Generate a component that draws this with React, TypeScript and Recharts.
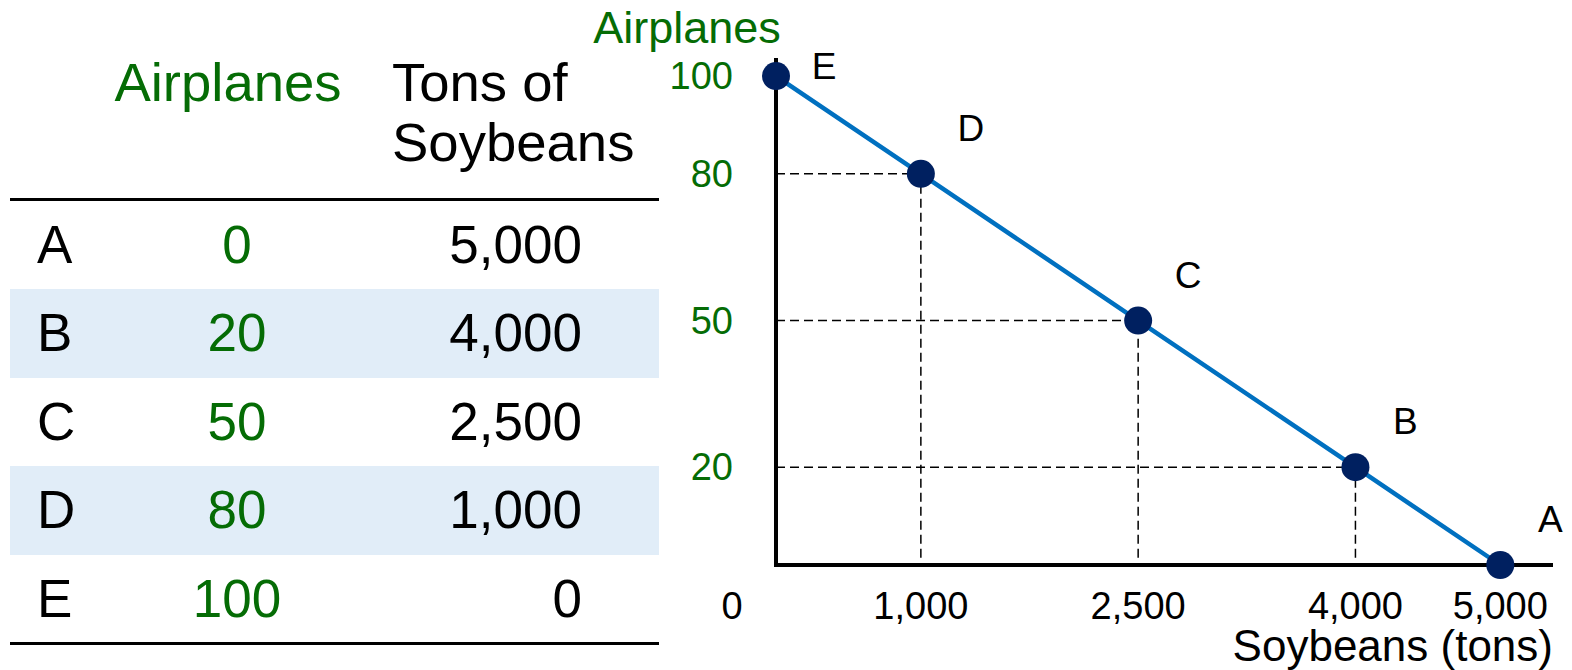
import React from 'react';
import { LineChart, Line, XAxis, YAxis, ReferenceLine, LabelList, Label } from 'recharts';

// Production possibilities: airplanes vs. tons of soybeans
const pointNames = ['A', 'B', 'C', 'D', 'E'];
const airplanes = [0, 20, 50, 80, 100];
const soybeanTons = [5000, 4000, 2500, 1000, 0];

const soybeanTicks = [0, 1000, 2500, 4000, 5000];
const airplaneTicks = [20, 50, 80, 100];

const GREEN = '#056C05';
const LINE_BLUE = '#0070C0';
const DOT_NAVY = '#002060';
const FONT = '"Liberation Sans", Arial, Helvetica, sans-serif';

const fmt = (v: number) => String(v).replace(/\B(?=(\d{3})+(?!\d))/g, ',');

const points = pointNames.map((name, i) => ({
  name,
  airplanes: airplanes[i],
  soybeans: soybeanTons[i],
}));
const chartData = [...points].sort((a, b) => a.soybeans - b.soybeans);
const maxAirplanes = Math.max(...airplanes);

// interior points get dashed guides back to both axes
const guidePoints = points.filter((p) => p.airplanes > 0 && p.soybeans > 0);

const XTick = (props: any) => {
  const { x, y, payload } = props;
  const v = payload.value as number;
  return (
    <text
      x={v === 0 ? x - 44 : x}
      y={y + 54}
      textAnchor="middle"
      fontSize={38}
      fill="#000"
      fontFamily={FONT}
    >
      {fmt(v)}
    </text>
  );
};

const YTick = (props: any) => {
  const { x, y, payload } = props;
  return (
    <text x={x - 43} y={y + 13} textAnchor="end" fontSize={38} fill={GREEN} fontFamily={FONT}>
      {payload.value}
    </text>
  );
};

const PointLabel = (props: any) => {
  const { x, y, value, index } = props;
  const p = chartData[index];
  const onTop = p && p.airplanes === maxAirplanes;
  const dx = onTop ? 48 : 50;
  const dy = onTop ? -10 : -46;
  return (
    <text
      x={x + dx}
      y={y + dy + 13}
      textAnchor="middle"
      fontSize={37}
      fill="#000"
      fontFamily={FONT}
    >
      {value}
    </text>
  );
};

const ROW_TOP = 200.5;
const ROW_H = 88.5;

const ScheduleTable = () => (
  <div
    style={{
      position: 'absolute',
      left: 0,
      top: 0,
      width: 670,
      height: 670,
      fontFamily: FONT,
      fontSize: 53,
      color: '#000',
      whiteSpace: 'nowrap',
    }}
  >
    <div
      style={{
        position: 'absolute',
        left: 88,
        width: 280,
        top: 53,
        fontSize: 54.5,
        lineHeight: '60px',
        textAlign: 'center',
        color: GREEN,
      }}
    >
      Airplanes
    </div>
    <div style={{ position: 'absolute', left: 392, top: 53, fontSize: 54.5, lineHeight: '60px' }}>
      Tons of
      <br />
      Soybeans
    </div>
    <div style={{ position: 'absolute', left: 10, width: 649, top: 198, height: 3, background: '#000' }} />
    {points.map((p, i) => (
      <div
        key={p.name}
        style={{
          position: 'absolute',
          left: 10,
          width: 649,
          top: ROW_TOP + i * ROW_H,
          height: ROW_H,
          lineHeight: `${ROW_H}px`,
          background: i % 2 === 1 ? '#E1EDF8' : 'transparent',
        }}
      >
        <div style={{ position: 'absolute', left: 27, top: 0 }}>{p.name}</div>
        <div style={{ position: 'absolute', left: 127, width: 200, top: 0, textAlign: 'center', color: GREEN }}>
          {p.airplanes}
        </div>
        <div style={{ position: 'absolute', left: 372, width: 200, top: 0, textAlign: 'right' }}>
          {fmt(p.soybeans)}
        </div>
      </div>
    ))}
    <div
      style={{
        position: 'absolute',
        left: 10,
        width: 649,
        top: ROW_TOP + points.length * ROW_H - 1,
        height: 3,
        background: '#000',
      }}
    />
  </div>
);

export default function App() {
  return (
    <div style={{ position: 'absolute', left: 0, top: 0, width: 1572, height: 670, background: '#fff' }}>
      <div style={{ position: 'absolute', left: 0, top: 0 }}>
        <LineChart
          width={1572}
          height={670}
          data={chartData}
          margin={{ top: 58, right: 21, bottom: 0, left: 716 }}
        >
          <XAxis
            type="number"
            dataKey="soybeans"
            domain={[0, 5350]}
            ticks={soybeanTicks}
            interval={0}
            tickLine={false}
            tickSize={0}
            tickMargin={0}
            height={105}
            axisLine={{ stroke: '#000', strokeWidth: 4, strokeLinecap: 'square' }}
            tick={<XTick />}
          >
            <Label
              content={(lp: any) => {
                const vb = lp.viewBox || {};
                return (
                  <text
                    x={(vb.x ?? 776) + (vb.width ?? 775) + 2}
                    y={(vb.y ?? 565) + 96}
                    textAnchor="end"
                    fontSize={44}
                    fill="#000"
                    fontFamily={FONT}
                  >
                    Soybeans (tons)
                  </text>
                );
              }}
            />
          </XAxis>
          <YAxis
            type="number"
            dataKey="airplanes"
            domain={[0, 103.7]}
            ticks={airplaneTicks}
            interval={0}
            width={60}
            tickLine={false}
            tickSize={0}
            tickMargin={0}
            axisLine={{ stroke: '#000', strokeWidth: 4 }}
            tick={<YTick />}
          >
            <Label
              content={(lp: any) => {
                const vb = lp.viewBox || {};
                return (
                  <text
                    x={(vb.x ?? 716) + (vb.width ?? 60) - 89}
                    y={(vb.y ?? 58) - 15}
                    textAnchor="middle"
                    fontSize={45}
                    fill={GREEN}
                    fontFamily={FONT}
                  >
                    Airplanes
                  </text>
                );
              }}
            />
          </YAxis>
          {guidePoints.map((p) => (
            <ReferenceLine
              key={`h-${p.name}`}
              segment={[
                { x: 0, y: p.airplanes },
                { x: p.soybeans, y: p.airplanes },
              ]}
              stroke="#000"
              strokeWidth={1.5}
              strokeDasharray="9 5"
            />
          ))}
          {guidePoints.map((p) => (
            <ReferenceLine
              key={`v-${p.name}`}
              segment={[
                { x: p.soybeans, y: 1.5 },
                { x: p.soybeans, y: p.airplanes },
              ]}
              stroke="#000"
              strokeWidth={1.5}
              strokeDasharray="9 5"
            />
          ))}
          <Line
            type="linear"
            dataKey="airplanes"
            stroke={LINE_BLUE}
            strokeWidth={4.5}
            dot={{ r: 14, fill: DOT_NAVY, stroke: DOT_NAVY, strokeWidth: 0 }}
            activeDot={false}
            isAnimationActive={false}
          >
            <LabelList dataKey="name" content={<PointLabel />} />
          </Line>
        </LineChart>
      </div>
      <ScheduleTable />
    </div>
  );
}
